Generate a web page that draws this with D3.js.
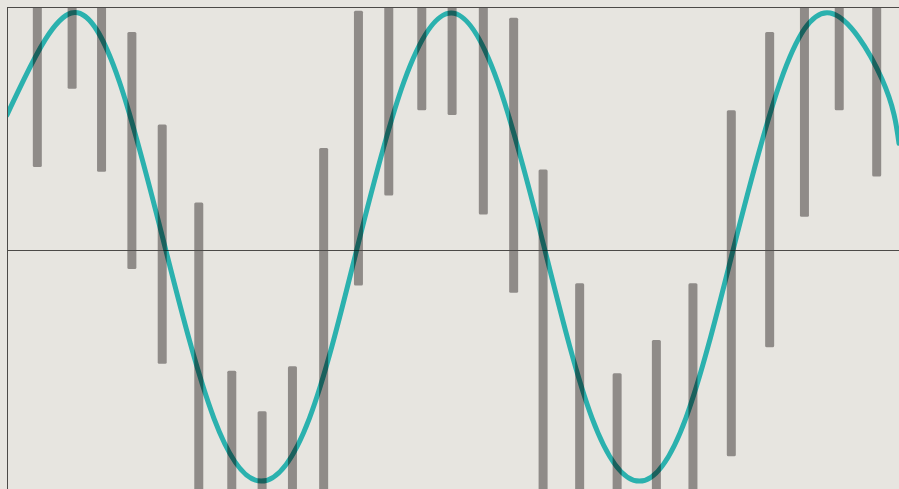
<!DOCTYPE html>
<html lang="en">
<head>
  <meta charset="UTF-8">
  <title>Cycle</title>
  <style>
    html, body { margin: 0; padding: 0; background: #e7e5e0; }
    svg { display: block; }
    .frame { stroke: #4c4a48; stroke-width: 1.3px; fill: none; shape-rendering: crispEdges; }
    .bar { fill: #8f8b88; }
    .wave { fill: none; stroke: #2bb1ae; stroke-width: 5px; mix-blend-mode: multiply; stroke-linecap: round; }
  </style>
</head>
<body>
  <script src="https://cdnjs.cloudflare.com/ajax/libs/d3/7.8.5/d3.min.js"></script>
  <script>
    // price bars: day position, high, low (oscillator units, 0 = midline)
    var barDay  = [3.4, 7.3, 10.6, 14.0, 17.4, 21.5, 25.2, 28.6, 32.0, 35.5, 39.4, 42.8, 46.5,
                   49.9, 53.4, 56.8, 60.1, 64.2, 68.4, 72.8, 76.9, 81.2, 85.5, 89.4, 93.3, 97.5];
    var barHigh = [1.1, 1.1, 1.1, 0.92, 0.53, 0.20, -0.51, -0.68, -0.49, 0.43, 1.01, 1.1, 1.1,
                   1.1, 1.1, 0.98, 0.34, -0.14, -0.52, -0.38, -0.14, 0.59, 0.92, 1.1, 1.1, 1.1];
    var barLow  = [0.35, 0.68, 0.33, -0.08, -0.48, -1.1, -1.1, -1.1, -1.1, -1.1, -0.15, 0.23, 0.59,
                   0.57, 0.15, -0.18, -1.1, -1.1, -1.1, -1.1, -1.1, -0.87, -0.41, 0.14, 0.59, 0.31];

    // cycle curve
    var waveDay = [0, 1.9, 7.2, 12.6, 17.8, 23.2, 28.5, 33.9, 39.2, 44.5, 49.8, 55.0, 60.3,
                   65.6, 70.9, 76.1, 81.4, 86.7, 92.3, 98.1, 100];
    var waveVal = [0.57, 0.72, 1.0, 0.71, 0, -0.71, -0.975, -0.71, 0, 0.71, 1.0, 0.71, 0,
                   -0.71, -0.975, -0.71, 0, 0.71, 1.0, 0.72, 0.45];

    var width = 899, height = 489;
    var margin = {top: 7, left: 7};

    var x = d3.scaleLinear().domain([0, 100]).range([margin.left, width]);
    var y = d3.scaleLinear().domain([-1, 1]).range([487, 13]);

    var svg = d3.select("body").append("svg")
        .attr("width", width)
        .attr("height", height);

    svg.append("defs").append("clipPath")
        .attr("id", "clip")
        .append("rect")
        .attr("x", margin.left)
        .attr("y", margin.top)
        .attr("width", width - margin.left)
        .attr("height", height - margin.top);

    var plot = svg.append("g").attr("clip-path", "url(#clip)");

    var bars = barDay.map(function (d, i) {
        return {day: d, high: barHigh[i], low: barLow[i]};
    });

    var bw = 9;
    plot.selectAll(".bar")
        .data(bars)
      .enter().append("rect")
        .attr("class", "bar")
        .attr("x", function (d) { return x(d.day) - bw / 2; })
        .attr("y", function (d) { return y(d.high); })
        .attr("width", bw)
        .attr("height", function (d) { return y(d.low) - y(d.high); })
        .attr("rx", 1.5);

    // midline
    plot.append("line")
        .attr("class", "frame")
        .attr("x1", margin.left).attr("x2", width)
        .attr("y1", Math.round(y(0)) + 0.5).attr("y2", Math.round(y(0)) + 0.5);

    var line = d3.line()
        .curve(d3.curveNatural)
        .x(function (d) { return x(d[0]); })
        .y(function (d) { return y(d[1]); });

    plot.append("path")
        .datum(waveDay.map(function (d, i) { return [d, waveVal[i]]; }))
        .attr("class", "wave")
        .attr("d", line);

    // frame: top and left edges
    svg.append("path")
        .attr("class", "frame")
        .attr("d", "M" + (margin.left + 0.5) + "," + height + "V" + (margin.top + 0.5) + "H" + width);
  </script>
</body>
</html>
